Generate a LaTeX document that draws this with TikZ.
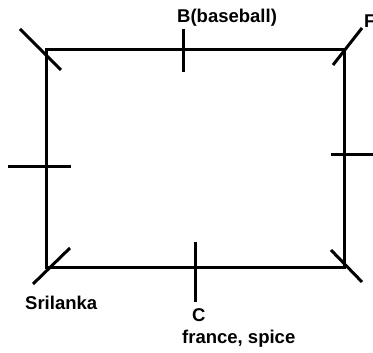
\documentclass[tikz,border=0pt]{standalone}
\usepackage{fontspec}
\setmainfont{Liberation Sans}
\begin{document}
\begin{tikzpicture}[x=1pt,y=-1pt,
  edge/.style={line width=3pt,line cap=butt},
  lbl/.style={font=\fontsize{18.5}{20}\selectfont\bfseries,inner sep=0pt}]
\clip (0,0) rectangle (373,353);
\useasboundingbox (0,0) rectangle (373,353);
\coordinate (tl) at (46,50);
\coordinate (tr) at (344,50);
\coordinate (br) at (344,268);
\coordinate (bl) at (46,268);
\draw[edge,line join=miter] (tl) -- (tr) -- (br) -- (bl) -- cycle;
% ticks
\coordinate (t1a) at (20,29); \coordinate (t1b) at (61,70);
\draw[edge] (t1a) -- (t1b);
\coordinate (t2a) at (183,29); \coordinate (t2b) at (183,72);
\draw[edge] (t2a) -- (t2b);
\coordinate (t3a) at (333,65); \coordinate (t3b) at (362,28);
\draw[edge] (t3a) -- (t3b);
\coordinate (t4a) at (8,167); \coordinate (t4b) at (71,167);
\draw[edge] (t4a) -- (t4b);
\coordinate (t5a) at (331,155); \coordinate (t5b) at (373,155);
\draw[edge] (t5a) -- (t5b);
\coordinate (t6a) at (33,284); \coordinate (t6b) at (70,248);
\draw[edge] (t6a) -- (t6b);
\coordinate (t7a) at (195,242); \coordinate (t7b) at (195,302);
\draw[edge] (t7a) -- (t7b);
\coordinate (t8a) at (331,250); \coordinate (t8b) at (362,282);
\draw[edge] (t8a) -- (t8b);
% labels
\node[lbl,anchor=base west] (lb) at (177,23) {B(baseball)};
\node[lbl,anchor=base west] (lf) at (364,28) {F};
\node[lbl,anchor=base west] (ls) at (25,309) {Srilanka};
\node[lbl,anchor=base west] (lc) at (192,321) {C};
\node[lbl,anchor=base west] (lfr) at (182,344) {france, spice};
\end{tikzpicture}
\end{document}
